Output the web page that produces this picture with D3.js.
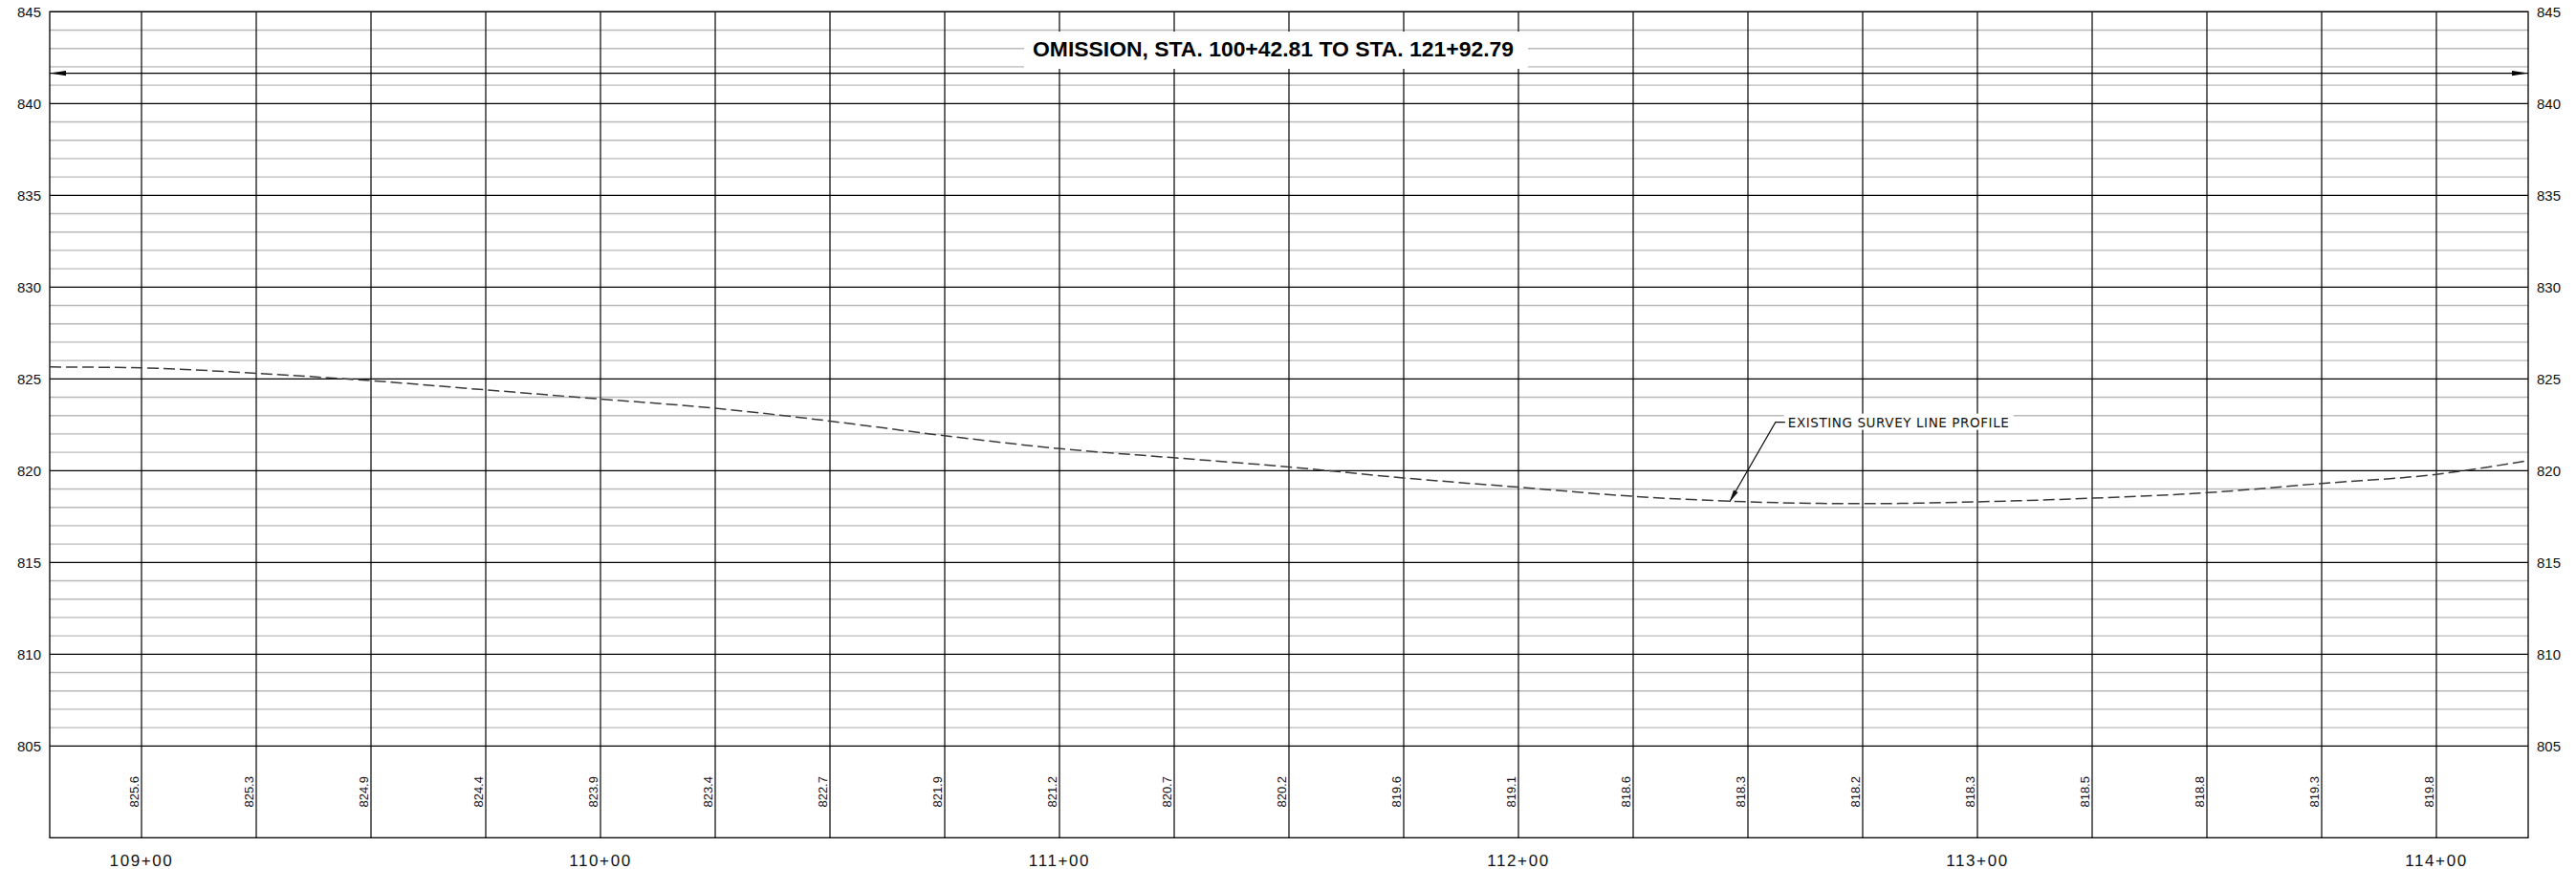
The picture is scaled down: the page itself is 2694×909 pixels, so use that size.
<!DOCTYPE html>
<html>
<head>
<meta charset="utf-8">
<script src="https://cdn.jsdelivr.net/npm/d3@7"></script>
<style>
  html, body { margin: 0; padding: 0; background: #fff; }
  svg { display: block; }
</style>
</head>
<body>
<svg id="chart" width="2694" height="909"></svg>
<script>
// ---------------- DATA ----------------
const stations = [10900, 10925, 10950, 10975, 11000, 11025, 11050, 11075, 11100, 11125,
                  11150, 11175, 11200, 11225, 11250, 11275, 11300, 11325, 11350, 11375, 11400];
const elevations = [825.6, 825.3, 824.9, 824.4, 823.9, 823.4, 822.7, 821.9, 821.2, 820.7,
                    820.2, 819.6, 819.1, 818.6, 818.3, 818.2, 818.3, 818.5, 818.8, 819.3, 819.8];
// profile as drawn (includes the line's ends at the sheet edges)
const profileStations = [10880].concat(stations, [11420]);
const profileElev = [825.65].concat(elevations, [820.55]);
const stationTicks = [10900, 11000, 11100, 11200, 11300, 11400];
const stationLabels = ["109+00", "110+00", "111+00", "112+00", "113+00", "114+00"];
const elevTicks = [805, 810, 815, 820, 825, 830, 835, 840, 845];
const minorElev = d3.range(806, 845).filter(v => v % 5 !== 0);
const titleText = "OMISSION, STA. 100+42.81 TO STA. 121+92.79";
const calloutText = "EXISTING SURVEY LINE PROFILE";
const dimElev = 841.65;
const calloutTip = { sta: 11246, elev: 818.3 };
const calloutElbow = { sta: 11256, elev: 822.64 };

// ---------------- SCALES ----------------
const svg = d3.select("#chart");
const x = d3.scaleLinear().domain([10880, 11420]).range([52, 2644]);
const y = d3.scaleLinear().domain([800, 845]).range([876.3, 12.3]);
const X0 = x.range()[0], X1 = x.range()[1];
const Y0 = y.range()[1], Y1 = y.range()[0];

// minor horizontal grid
svg.append("g").selectAll("line").data(minorElev).join("line")
  .attr("x1", X0).attr("x2", X1)
  .attr("y1", d => y(d)).attr("y2", d => y(d))
  .attr("stroke", "#b9b9b9").attr("stroke-width", 1.4);

// major horizontal grid
svg.append("g").selectAll("line").data(elevTicks).join("line")
  .attr("x1", X0).attr("x2", X1)
  .attr("y1", d => y(d)).attr("y2", d => y(d))
  .attr("stroke", "#000").attr("stroke-width", 1.2);

// vertical grid
svg.append("g").selectAll("line").data(stations).join("line")
  .attr("x1", d => x(d)).attr("x2", d => x(d))
  .attr("y1", Y0).attr("y2", Y1)
  .attr("stroke", "#000").attr("stroke-width", 1.2);

// border
svg.append("rect").attr("x", X0).attr("y", Y0)
  .attr("width", X1 - X0).attr("height", Y1 - Y0)
  .attr("fill", "none").attr("stroke", "#000").attr("stroke-width", 1.3);

// elevation labels left/right
const lab = svg.append("g").attr("font-family", "Liberation Sans, Arial, sans-serif")
  .attr("font-size", 15).attr("fill", "#111");
lab.selectAll("text.l").data(elevTicks).join("text").attr("class", "l")
  .attr("x", X0 - 9).attr("y", d => y(d)).attr("dy", "0.36em")
  .attr("text-anchor", "end").text(d => d);
lab.selectAll("text.r").data(elevTicks).join("text").attr("class", "r")
  .attr("x", X1 + 9).attr("y", d => y(d)).attr("dy", "0.36em")
  .attr("text-anchor", "start").text(d => d);

// station labels
svg.append("g").selectAll("text").data(stationTicks).join("text")
  .attr("x", d => x(d)).attr("y", 906)
  .attr("text-anchor", "middle")
  .attr("font-family", "Liberation Sans, Arial, sans-serif")
  .attr("font-size", 17).attr("letter-spacing", 1.6).attr("fill", "#111")
  .text((d, i) => stationLabels[i]);

// rotated elevation values
svg.append("g").selectAll("text").data(stations).join("text")
  .attr("transform", d => `translate(${x(d) - 3},${(y(805) + Y1) / 2}) rotate(-90)`)
  .attr("text-anchor", "middle")
  .attr("font-family", "Liberation Sans, Arial, sans-serif")
  .attr("font-size", 13).attr("fill", "#111")
  .text((d, i) => elevations[i].toFixed(1));

// profile line
const line = d3.line().x(d => x(d[0])).y(d => y(d[1])).curve(d3.curveMonotoneX);
svg.append("path")
  .datum(profileStations.map((s, i) => [s, profileElev[i]]))
  .attr("d", line).attr("fill", "none")
  .attr("stroke", "#3a3a3a").attr("stroke-width", 1.5)
  .attr("stroke-dasharray", "12,5");

// title with white box
svg.append("rect").attr("x", 1071).attr("y", 33).attr("width", 527).attr("height", 39)
  .attr("fill", "#fff");
svg.append("text").attr("x", 1331.5).attr("y", 58.5).attr("text-anchor", "middle")
  .attr("font-family", "Liberation Sans, Arial, sans-serif").attr("font-weight", "bold")
  .attr("font-size", 22).attr("textLength", 503).attr("lengthAdjust", "spacingAndGlyphs")
  .attr("fill", "#000").text(titleText);

// dimension arrow
const yd = y(dimElev);
svg.append("line").attr("x1", X0).attr("x2", X1).attr("y1", yd).attr("y2", yd)
  .attr("stroke", "#000").attr("stroke-width", 1.2);
svg.append("path").attr("d", `M${X0},${yd} L${X0 + 17},${yd - 2.6} L${X0 + 17},${yd + 2.6} Z`).attr("fill", "#000");
svg.append("path").attr("d", `M${X1},${yd} L${X1 - 17},${yd - 2.6} L${X1 - 17},${yd + 2.6} Z`).attr("fill", "#000");

// callout
const ex = x(calloutElbow.sta), ey = y(calloutElbow.elev);
const tx = x(calloutTip.sta), ty = y(calloutTip.elev);
svg.append("rect").attr("x", ex + 9).attr("y", ey - 9).attr("width", 240).attr("height", 17)
  .attr("fill", "#fff");
svg.append("text").attr("x", ex + 13).attr("y", ey + 5)
  .attr("font-family", "DejaVu Sans, sans-serif").attr("font-size", 13.5)
  .attr("textLength", 231).attr("lengthAdjust", "spacing")
  .attr("fill", "#111").text(calloutText);
svg.append("path").attr("d", `M${ex + 10},${ey} L${ex},${ey} L${tx},${ty}`)
  .attr("fill", "none").attr("stroke", "#111").attr("stroke-width", 1.2);
// leader arrowhead
const ang = Math.atan2(ty - ey, tx - ex);
const L = 13, W = 2.6;
const bx = tx - L * Math.cos(ang), by = ty - L * Math.sin(ang);
const px = -Math.sin(ang) * W, py = Math.cos(ang) * W;
svg.append("path").attr("d", `M${tx},${ty} L${bx + px},${by + py} L${bx - px},${by - py} Z`)
  .attr("fill", "#111");
</script>
</body>
</html>
